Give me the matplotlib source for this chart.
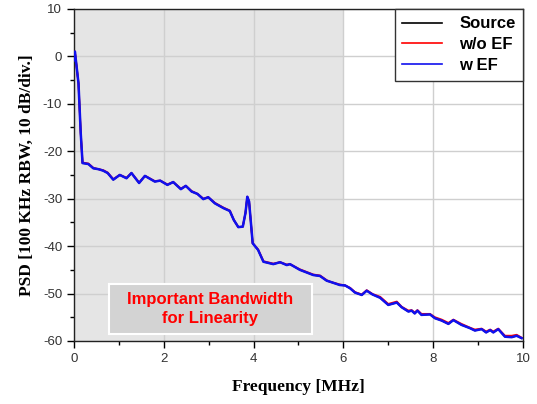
import matplotlib
matplotlib.use("Agg")
import matplotlib.pyplot as plt
from matplotlib.patches import Rectangle
from matplotlib.ticker import MultipleLocator

plt.rcParams["axes.unicode_minus"] = False

freq = [0.0, 0.02, 0.05, 0.10, 0.15, 0.19, 0.32, 0.43, 0.55, 0.65, 0.75, 0.875, 1.02, 1.17, 1.28,
        1.45, 1.58, 1.80, 1.92, 2.08, 2.21, 2.38, 2.49, 2.62, 2.75, 2.88, 2.99, 3.14, 3.33,
        3.47, 3.56, 3.66, 3.76, 3.82, 3.86, 3.90, 3.98, 4.10, 4.22, 4.44, 4.59, 4.74, 4.81,
        5.03, 5.33, 5.48, 5.63, 5.70, 5.92, 6.04, 6.15, 6.26, 6.41, 6.52, 6.65, 6.82,
        7.00, 7.19, 7.30, 7.45, 7.52, 7.59, 7.65, 7.74, 7.93, 8.04, 8.19, 8.34, 8.45,
        8.63, 8.82, 8.93, 9.08, 9.18, 9.27, 9.34, 9.45, 9.60, 9.75, 9.86, 9.97]
source = [-0.8, 1.0, -1.5, -5.7, -16.2, -22.5, -22.7, -23.6, -23.8, -24.1, -24.6, -26.0, -25.0, -25.7, -24.6,
          -26.7, -25.2, -26.4, -26.2, -27.1, -26.5, -28.0, -27.3, -28.5, -29.0, -30.1, -29.7, -31.0, -32.0,
          -32.6, -34.5, -36.0, -35.9, -33.0, -29.6, -30.6, -39.4, -40.8, -43.3, -43.8, -43.4, -44.0, -43.8,
          -45.0, -46.1, -46.3, -47.3, -47.5, -48.2, -48.3, -48.9, -49.8, -50.3, -49.4, -50.2, -50.9,
          -52.4, -51.9, -52.9, -53.8, -53.6, -54.2, -53.6, -54.5, -54.4, -55.2, -55.7, -56.4, -55.6,
          -56.6, -57.3, -57.8, -57.5, -58.2, -57.7, -58.2, -57.5, -59.1, -59.2, -58.9, -59.4]
wo_ef = [-0.8, 1.0, -1.5, -5.7, -16.2, -22.4, -22.6, -23.5, -23.8, -24.0, -24.5, -25.9, -25.0, -25.6, -24.6,
         -26.6, -25.2, -26.3, -26.2, -27.0, -26.5, -27.9, -27.3, -28.4, -29.0, -30.0, -29.7, -30.9, -31.9,
         -32.5, -34.5, -36.0, -35.9, -33.0, -29.6, -30.6, -39.4, -40.7, -43.2, -43.7, -43.4, -43.9, -43.8,
         -44.9, -46.0, -46.2, -47.2, -47.5, -48.1, -48.3, -48.8, -49.7, -50.2, -49.3, -50.1, -50.7,
         -52.2, -51.7, -52.8, -53.6, -53.5, -54.0, -53.5, -54.3, -54.3, -55.0, -55.5, -56.2, -55.5,
         -56.4, -57.2, -57.6, -57.4, -58.0, -57.6, -58.0, -57.4, -58.9, -58.9, -58.7, -59.3]
w_ef = [-0.8, 1.0, -1.5, -5.7, -16.2, -22.5, -22.7, -23.6, -23.8, -24.1, -24.6, -26.0, -25.0, -25.7, -24.6,
        -26.7, -25.2, -26.4, -26.2, -27.1, -26.5, -28.0, -27.3, -28.5, -29.0, -30.1, -29.7, -31.0, -32.0,
        -32.6, -34.5, -36.0, -35.9, -33.0, -29.6, -30.6, -39.4, -40.8, -43.3, -43.8, -43.4, -44.0, -43.8,
        -45.0, -46.1, -46.3, -47.3, -47.5, -48.2, -48.3, -48.9, -49.8, -50.3, -49.4, -50.2, -50.9,
        -52.4, -51.9, -52.9, -53.8, -53.6, -54.2, -53.6, -54.5, -54.4, -55.2, -55.7, -56.4, -55.6,
        -56.6, -57.3, -57.8, -57.5, -58.2, -57.7, -58.2, -57.5, -59.1, -59.2, -58.9, -59.4]
series_names = ["Source", "w/o EF", "w EF"]
x_ticks = [0, 2, 4, 6, 8, 10]
y_ticks = [10, 0, -10, -20, -30, -40, -50, -60]
band_start, band_end = 0, 6

fig = plt.figure(figsize=(5.37, 4.04), dpi=100)
ax = fig.add_axes([0.1378, 0.156, 0.836, 0.822])

ax.axvspan(band_start, band_end, color="#e5e5e5", zorder=0, lw=0)
ax.grid(True, color="#cfcfcf", lw=1.0, zorder=0.5)
ax.set_axisbelow(True)

ax.plot(freq, source, color="black", lw=1.2, label=series_names[0], zorder=3)
ax.plot(freq, wo_ef, color="red", lw=1.4, label=series_names[1], zorder=4)
ax.plot(freq, w_ef, color="#1010ee", lw=1.8, label=series_names[2], zorder=5)

ax.set_xlim(0, 10)
ax.set_ylim(-60, 10)
ax.set_xticks(x_ticks)
ax.set_yticks(y_ticks)
ax.xaxis.set_minor_locator(MultipleLocator(1))
ax.yaxis.set_minor_locator(MultipleLocator(5))
ax.tick_params(which="both", direction="out", top=False, right=False,
               labelsize=9.5, labelcolor="#333333", labelfontfamily="Liberation Sans")
ax.tick_params(which="major", length=5, width=1)
ax.tick_params(which="minor", length=3, width=1)
for s in ax.spines.values():
    s.set_color("#222222")
    s.set_linewidth(1.0)

ax.set_xlabel("Frequency [MHz]", fontfamily="Liberation Serif", fontweight="bold", fontsize=12.5, labelpad=10)
ax.set_ylabel("PSD [100 KHz RBW, 10 dB/div.]", fontfamily="Liberation Serif", fontweight="bold", fontsize=12.5, labelpad=6)

rect = Rectangle((0.78, -58.6), 4.52, 10.7, facecolor="#d3d3d3", edgecolor="white", lw=1.5, zorder=6)
ax.add_patch(rect)
ax.text(3.04, -53.3, "Important Bandwidth\nfor Linearity", color="red", fontweight="bold",
        fontfamily="Liberation Sans", fontsize=12, ha="center", va="center", zorder=7, linespacing=1.35)

leg = ax.legend(loc="upper right", frameon=True, fancybox=False, borderaxespad=0,
                prop={"family": "Liberation Sans", "weight": "bold", "size": 12},
                handlelength=2.4, handletextpad=1.0, borderpad=0.45, labelspacing=0.35)
leg.get_frame().set_edgecolor("#333333")
leg.get_frame().set_linewidth(1.0)
leg.get_frame().set_alpha(1)
for h in leg.get_lines():
    h.set_linewidth(1.2)

fig.savefig("out.png", dpi=100)
